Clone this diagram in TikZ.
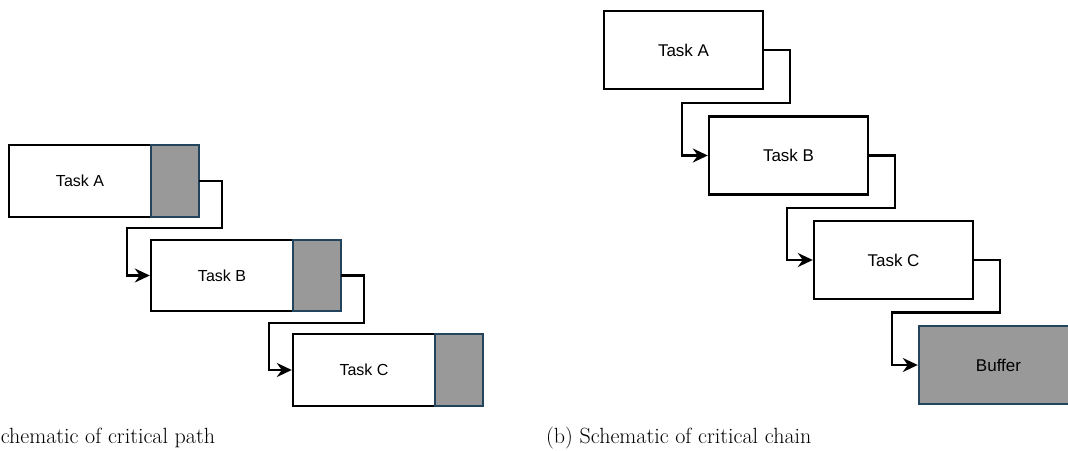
\documentclass[tikz,border=0pt]{standalone}
\usepackage{fontspec}
\newfontfamily\boxfont{Liberation Sans}
\usetikzlibrary{arrows.meta,calc}

\definecolor{bufline}{HTML}{23445D}
\definecolor{buffill}{HTML}{999999}

\tikzset{
  taskbox/.style={draw=black, fill=white, line width=2.4pt, inner sep=0pt,
    font=\boxfont\fontsize{#1}{#1}\selectfont},
  smalltask/.style={taskbox=16, minimum width=142pt, minimum height=71.5pt},
  bigtask/.style={taskbox=17, minimum width=159pt, minimum height=78pt},
  bufbox/.style={draw=bufline, fill=buffill, line width=2.4pt, inner sep=0pt},
  smallbuf/.style={bufbox, minimum width=48pt, minimum height=71.5pt,
    anchor=west, outer sep=0pt, xshift=-1.2pt},
  flow/.style={draw=black, line width=2.4pt, line join=miter,
    -{Stealth[length=15pt,width=14pt,inset=5pt]}},
  caption/.style={font=\fontsize{22}{26}\selectfont, anchor=base west, inner sep=0pt}
}

\begin{document}
\begin{tikzpicture}[x=1pt, y=-1pt]
\useasboundingbox (0,0) rectangle (1068,450);

% ---------- critical path: every task carries its own safety margin ----------
\node[smalltask] (pA) at (80,181) {Task A};
\node[smallbuf] (pAs) at (pA.east) {};
\node[smalltask] (pB) at (222,275.5) {Task B};
\node[smallbuf] (pBs) at (pB.east) {};
\node[smalltask] (pC) at (364,370) {Task C};
\node[smallbuf] (pCs) at (pC.east) {};

\draw[flow] (pAs.east) -- ++(23,0) |- ($(pA.south)!.5!(pB.north)$)
  -| ($(pB.west)+(-23,0)$) -- (pB.west);
\draw[flow] (pBs.east) -- ++(23,0) |- ($(pB.south)!.5!(pC.north)$)
  -| ($(pC.west)+(-23,0)$) -- (pC.west);

\node[caption] (capA) at (-43,443) {(a) Schematic of critical path};

% ---------- critical chain: margins pooled into one buffer at the end ----------
\node[bigtask] (cA) at (683.5,50) {Task A};
\node[bigtask] (cB) at (788.5,155.5) {Task B};
\node[bigtask] (cC) at (893.5,260) {Task C};
\node[bufbox, minimum width=159pt, minimum height=78pt,
      font=\boxfont\fontsize{17}{17}\selectfont] (cD) at (998.5,365) {Buffer};

\draw[flow] (cA.east) -- ++(26,0) |- ($(cA.south)!.5!(cB.north)$)
  -| ($(cB.west)+(-26,0)$) -- (cB.west);
\draw[flow] (cB.east) -- ++(26,0) |- ($(cB.south)!.5!(cC.north)$)
  -| ($(cC.west)+(-26,0)$) -- (cC.west);
\draw[flow] (cC.east) -- ++(26,0) |- ($(cC.south)!.5!(cD.north)$)
  -| ($(cD.west)+(-26,0)$) -- (cD.west);

\node[caption] (capB) at (546,443) {(b) Schematic of critical chain};
\end{tikzpicture}
\end{document}
